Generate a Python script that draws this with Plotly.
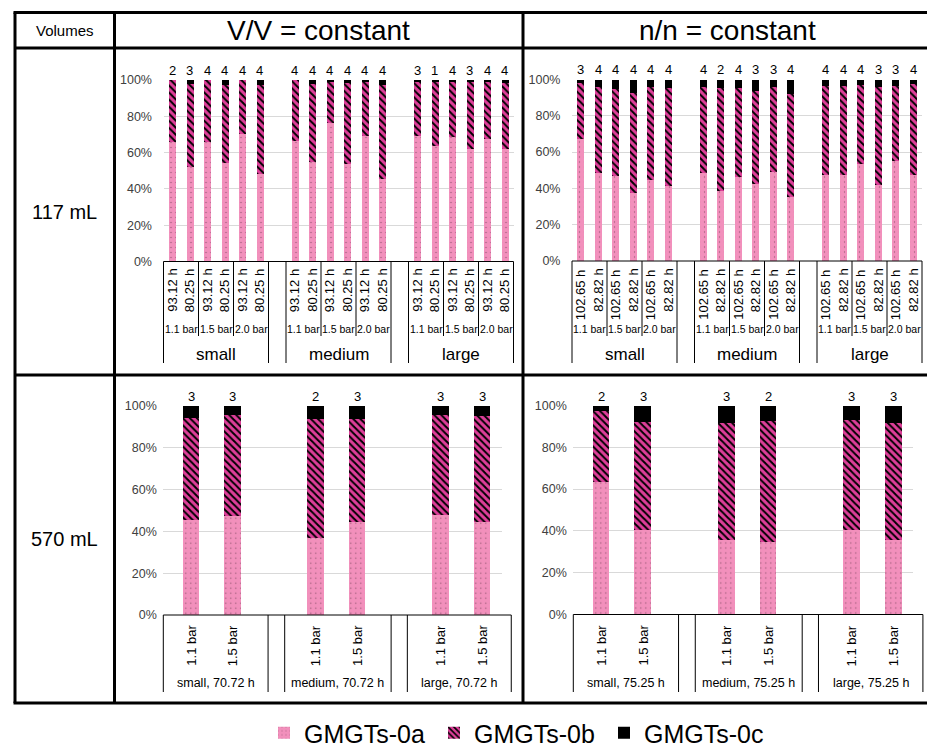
import plotly.graph_objects as go

W, H = 927, 749

# ---------------- data ----------------
sizes = ["small", "medium", "large"]
pressures_117 = ["1.1 bar", "1.5 bar", "2.0 bar"]
times_vv_117 = ["93.12 h", "80.25 h"]
times_nn_117 = ["102.65 h", "82.82 h"]
pressures_570 = ["1.1 bar", "1.5 bar"]
time_vv_570 = "70.72 h"
time_nn_570 = "75.25 h"
series_names = ["GMGTs-0a", "GMGTs-0b", "GMGTs-0c"]
pct_ticks = [0, 20, 40, 60, 80, 100]

# shares in %, ordered size -> pressure -> reaction time
vv117_0a = [66.1, 51.9, 66.1, 54.5, 70.1, 48.1,
            66.6, 54.7, 76.5, 53.8, 69.2, 45.5,
            69.2, 63.7, 68.4, 62.0, 67.3, 62.0]
vv117_0b = [33.9, 45.7, 33.9, 42.9, 29.9, 49.0,
            33.4, 42.9, 22.5, 44.7, 29.8, 51.9,
            29.5, 35.0, 30.3, 36.7, 31.4, 36.3]
vv117_0c = [0.0, 2.4, 0.0, 2.6, 0.0, 2.9,
            0.0, 2.4, 1.0, 1.5, 1.0, 2.6,
            1.3, 1.3, 1.3, 1.3, 1.3, 1.7]
vv117_n = [2, 3, 4, 4, 4, 4,
           4, 4, 4, 4, 4, 4,
           3, 1, 4, 3, 4, 4]

nn117_0a = [67.5, 48.6, 47.0, 37.8, 45.0, 41.5,
            48.6, 39.1, 46.6, 42.9, 49.5, 35.5,
            47.7, 47.7, 53.6, 42.0, 55.4, 47.7]
nn117_0b = [30.8, 47.4, 48.0, 55.0, 51.3, 54.1,
            47.4, 56.3, 48.8, 51.2, 46.8, 56.8,
            48.8, 49.2, 43.5, 54.1, 41.3, 49.9]
nn117_0c = [1.7, 4.0, 5.0, 7.2, 3.7, 4.4,
            4.0, 4.6, 4.6, 5.9, 3.7, 7.7,
            3.5, 3.1, 2.9, 3.9, 3.3, 2.4]
nn117_n = [3, 4, 4, 4, 4, 4,
           4, 2, 4, 3, 3, 4,
           4, 4, 4, 3, 3, 4]

# ordered size -> pressure
vv570_0a = [45.4, 47.5, 36.9, 44.4, 48.1, 44.4]
vv570_0b = [49.0, 48.4, 56.9, 49.4, 47.8, 50.8]
vv570_0c = [5.6, 4.1, 6.2, 6.2, 4.1, 4.8]
vv570_n = [3, 3, 2, 3, 3, 3]

nn570_0a = [63.8, 40.8, 36.0, 34.9, 40.7, 36.0]
nn570_0b = [34.0, 51.7, 55.7, 57.9, 52.8, 56.0]
nn570_0c = [2.2, 7.5, 8.3, 7.2, 6.5, 8.0]
nn570_n = [2, 3, 3, 2, 3, 3]

# ---------------- styling ----------------
FONT = "Liberation Sans, Arial, sans-serif"
PINK = "#F290BC"
MAGENTA = "#DE3E99"
GRID = "#D9D9D9"
TICK = "#404040"

fills = [
    dict(color=PINK, pattern=dict(shape=".", fgcolor="#9A5A78", bgcolor=PINK,
                                  size=5, solidity=0.06, fillmode="replace")),
    dict(color=MAGENTA, pattern=dict(shape="\\", fgcolor="black", bgcolor=MAGENTA,
                                     size=5, solidity=0.4, fillmode="replace")),
    dict(color="black"),
]


def px_x(x):
    return x / W


def px_y(y):
    return 1 - y / H


fig = go.Figure()
shapes = []
annotations = []


def hline(x0, x1, y, width=1.0):
    shapes.append(dict(type="line", xref="paper", yref="paper",
                       x0=px_x(x0), x1=px_x(x1), y0=px_y(y), y1=px_y(y),
                       line=dict(color="black", width=width)))


def vline(x, y0, y1, width=1.0):
    shapes.append(dict(type="line", xref="paper", yref="paper",
                       x0=px_x(x), x1=px_x(x), y0=px_y(y0), y1=px_y(y1),
                       line=dict(color="black", width=width)))


def text(x, y, s, size, **kw):
    annotations.append(dict(xref="paper", yref="paper", x=px_x(x), y=px_y(y),
                            text=s, showarrow=False,
                            font=dict(family=FONT, size=size, color="black"), **kw))


# panel geometry (pixels) and axis ranges
TOP_RANGE = (-0.5, 19.5)
BOT_RANGE = (-0.67, 7.47)
panels = [
    dict(idx=1, dx=(163.5, 513.5), dy=(80.0, 261.5), rng=TOP_RANGE, tl=8),
    dict(idx=2, dx=(572.0, 922.0), dy=(79.5, 261.0), rng=TOP_RANGE, tl=8),
    dict(idx=3, dx=(163.3, 501.7), dy=(405.7, 615.0), rng=BOT_RANGE, tl=3),
    dict(idx=4, dx=(573.3, 913.3), dy=(405.5, 614.5), rng=BOT_RANGE, tl=3),
]

slots_117 = [g * 7 + p * 2 + t for g in range(len(sizes))
             for p in range(len(pressures_117)) for t in range(2)]
slots_570 = [g * 3 + p for g in range(len(sizes)) for p in range(len(pressures_570))]

panel_data = [
    (slots_117, [vv117_0a, vv117_0b, vv117_0c], vv117_n),
    (slots_117, [nn117_0a, nn117_0b, nn117_0c], nn117_n),
    (slots_570, [vv570_0a, vv570_0b, vv570_0c], vv570_n),
    (slots_570, [nn570_0a, nn570_0b, nn570_0c], nn570_n),
]

layout_axes = {}
for pnl, (xs, series, counts) in zip(panels, panel_data):
    i = pnl["idx"]
    xa = "x" if i == 1 else f"x{i}"
    ya = "y" if i == 1 else f"y{i}"
    for k, (vals, name) in enumerate(zip(series, series_names)):
        fig.add_trace(go.Bar(
            x=xs, y=vals, name=name, width=0.4,
            marker=dict(line=dict(width=0), **fills[k]),
            xaxis=xa, yaxis=ya, showlegend=(i == 1),
            hovertemplate="%{y:.1f}%<extra>" + name + "</extra>"))
    for s, n in zip(xs, counts):
        annotations.append(dict(xref=xa, yref=ya, x=s, y=100, text=str(n),
                                showarrow=False, yanchor="bottom", yshift=0,
                                font=dict(family=FONT, size=13, color="black")))
    L, R = pnl["dx"]
    T, B = pnl["dy"]
    layout_axes["xaxis" if i == 1 else f"xaxis{i}"] = dict(
        domain=[px_x(L), px_x(R)], range=list(pnl["rng"]), anchor=ya,
        showticklabels=False, showgrid=False, zeroline=False, showline=False,
        ticks="", fixedrange=True)
    layout_axes["yaxis" if i == 1 else f"yaxis{i}"] = dict(
        domain=[px_y(B), px_y(T)], range=[0, 100], anchor=xa,
        tickmode="array", tickvals=pct_ticks,
        ticktext=[f"{v}%" for v in pct_ticks],
        tickfont=dict(family=FONT, size=12.5, color=TICK),
        ticks="outside", ticklen=pnl["tl"], tickcolor="rgba(0,0,0,0)",
        showgrid=True, gridcolor=GRID, gridwidth=1,
        zeroline=False, showline=False, fixedrange=True)


def slot_px(pnl, s):
    L, R = pnl["dx"]
    r0, r1 = pnl["rng"]
    return L + (s - r0) / (r1 - r0) * (R - L)


# multi-level category labels, 117 mL row
for pnl, times in ((panels[0], times_vv_117), (panels[1], times_nn_117)):
    base = pnl["dy"][1]
    hline(pnl["dx"][0], pnl["dx"][1], base)
    for g, size in enumerate(sizes):
        g0 = g * 7
        vline(slot_px(pnl, g0 - 0.5), base, 363)
        vline(slot_px(pnl, g0 + 5.5), base, 363)
        for p, pres in enumerate(pressures_117):
            if p > 0:
                vline(slot_px(pnl, g0 + p * 2 - 0.5), base, 336)
            for t, tm in enumerate(times):
                text(slot_px(pnl, g0 + p * 2 + t), 267, tm, 13,
                     textangle=-90, xanchor="center", yanchor="top")
            text(slot_px(pnl, g0 + p * 2 + 0.5), 329, pres, 10.5,
                 xanchor="center", yanchor="middle")
        text(slot_px(pnl, g0 + 2.5), 354, size, 17,
             xanchor="center", yanchor="middle")

# category boxes, 570 mL row
box_edges = [(-0.67, 1.85), (2.25, 4.81), (5.2, 7.7)]
for pnl, tm in ((panels[2], time_vv_570), (panels[3], time_nn_570)):
    base = pnl["dy"][1]
    hline(slot_px(pnl, box_edges[0][0]), slot_px(pnl, box_edges[-1][1]), base)
    for g, size in enumerate(sizes):
        e0, e1 = box_edges[g]
        vline(slot_px(pnl, e0), base, 692)
        vline(slot_px(pnl, e1), base, 692)
        for p, pres in enumerate(pressures_570):
            text(slot_px(pnl, g * 3 + p), 623, pres, 13,
                 textangle=-90, xanchor="center", yanchor="top")
        text((slot_px(pnl, e0) + slot_px(pnl, e1)) / 2, 683, f"{size}, {tm}", 12.5,
             xanchor="center", yanchor="middle")

# surrounding table
TL_X, TL_Y, RIGHT, BOTTOM = 15, 12.5, 935, 703
COL1, COL2 = 114.5, 523
ROW1, ROW2 = 48, 375
hline(TL_X - 1.5, RIGHT, TL_Y, 3)
hline(TL_X - 1.5, RIGHT, BOTTOM, 3)
hline(TL_X, RIGHT, ROW1, 3)
hline(TL_X, RIGHT, ROW2, 3)
vline(TL_X, TL_Y, BOTTOM, 3)
vline(COL1, TL_Y, BOTTOM, 3)
vline(COL2, TL_Y, BOTTOM, 3)

text((TL_X + COL1) / 2, 30.5, "Volumes", 15, xanchor="center", yanchor="middle")
text(318, 30.5, "V/V = constant", 28, xanchor="center", yanchor="middle")
text(727, 30.5, "n/n = constant", 28, xanchor="center", yanchor="middle")
text((TL_X + COL1) / 2, 212, "117 mL", 20, xanchor="center", yanchor="middle")
text((TL_X + COL1) / 2, 539, "570 mL", 20, xanchor="center", yanchor="middle")

fig.update_layout(
    width=W, height=H,
    margin=dict(l=0, r=0, t=0, b=0, autoexpand=False),
    paper_bgcolor="white", plot_bgcolor="white",
    barmode="stack", bargap=0,
    font=dict(family=FONT, color="black"),
    showlegend=True,
    legend=dict(orientation="h", x=px_x(264), xanchor="left",
                y=px_y(733), yanchor="middle", traceorder="normal",
                entrywidth=125, entrywidthmode="pixels",
                font=dict(family=FONT, size=25, color="black"),
                bgcolor="rgba(0,0,0,0)"),
    shapes=shapes, annotations=annotations,
    **layout_axes,
)

fig.write_html("out.html")
